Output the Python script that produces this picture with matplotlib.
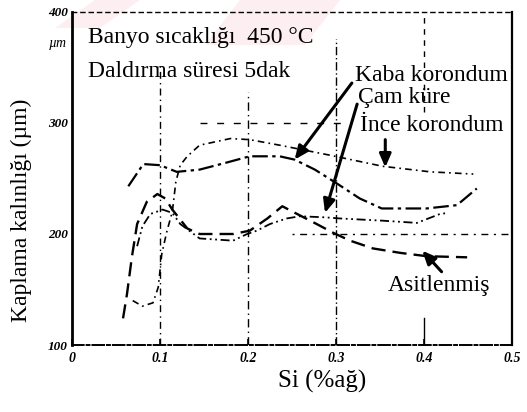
import matplotlib
matplotlib.use("Agg")
import matplotlib.pyplot as plt
from matplotlib.patches import Polygon

# --- data: coating thickness (µm) versus Si content (wt %) ---
kaba_si = [0.064, 0.081, 0.100, 0.119, 0.145, 0.174, 0.202, 0.236, 0.253, 0.276,
           0.302, 0.327, 0.352, 0.403, 0.4375, 0.460]
kaba_t = [243, 263, 262, 256, 258, 264, 270, 270, 267, 258,
          245, 232, 223, 223, 226, 241]

ince_si = [0.069, 0.080, 0.092, 0.098, 0.102, 0.108, 0.114, 0.118, 0.123, 0.131,
           0.145, 0.180, 0.202, 0.236, 0.293, 0.353, 0.407, 0.456]
ince_t = [140, 135, 138, 152, 182, 203, 220, 247, 262, 270,
          280, 286, 285, 280, 271, 261, 256, 254]

asit_si = [0.058, 0.0625, 0.068, 0.074, 0.085, 0.097, 0.106, 0.114, 0.131, 0.145,
           0.183, 0.202, 0.222, 0.239, 0.251, 0.278, 0.297, 0.316, 0.342, 0.373,
           0.403, 0.449]
asit_t = [124, 146, 179, 209, 229, 236, 232, 222, 205, 200,
          200, 203, 214, 225, 220, 209, 201, 194, 187, 183,
          180, 179]

cam_si = [0.074, 0.080, 0.089, 0.103, 0.114, 0.123, 0.145, 0.183, 0.199, 0.210,
          0.225, 0.244, 0.259, 0.2875, 0.3045, 0.353, 0.392, 0.418, 0.427]
cam_t = [189, 207, 218, 222, 219, 209, 196, 194, 200, 203,
         209, 214, 216, 215, 214, 212, 210, 218, 219]

x_ticks = [0, 0.1, 0.2, 0.3, 0.4, 0.5]
x_tick_labels = ["0", "0.1", "0.2", "0.3", "0.4", "0.5"]
y_ticks = [100, 200, 300, 400]
y_tick_labels = ["100", "200", "300", "400"]

SERIF = ["Liberation Serif", "DejaVu Serif"]

fig = plt.figure(figsize=(5.27, 4.12), dpi=100)
fig.patch.set_facecolor("white")

# faint pink diagonal bands across the top-left, behind everything
W, H = 527.0, 412.0
def fpx(pts):
    return [(x / W, 1 - y / H) for x, y in pts]
for band in ([(95, 0), (140, 0), (100, 28), (55, 28)],
             [(240, 0), (340, 0), (305, 45), (205, 45)]):
    fig.patches.append(Polygon(fpx(band), closed=True, transform=fig.transFigure,
                               facecolor="#fdeff1", edgecolor="none", zorder=-5))

ax = fig.add_axes([72 / W, 1 - 345 / H, (512 - 72) / W, (345 - 12) / H])
ax.set_zorder(1)
ax.patch.set_alpha(0)
ax.set_xlim(0, 0.5)
ax.set_ylim(100, 400)

# frame
ax.spines["left"].set_linewidth(2.0)
ax.spines["bottom"].set_linewidth(1.4)
ax.spines["bottom"].set_linestyle((0, (6, 1.5, 1.5, 1.5)))
ax.spines["top"].set_linewidth(1.0)
ax.spines["top"].set_linestyle((0, (3, 3)))
ax.spines["right"].set_linewidth(1.6)

ax.set_xticks(x_ticks)
ax.set_xticklabels(x_tick_labels, fontfamily=SERIF, fontstyle="italic",
                   fontweight="bold", fontsize=10)
ax.set_yticks(y_ticks)
ax.set_yticklabels(y_tick_labels, fontfamily=SERIF, fontstyle="italic",
                   fontweight="bold", fontsize=9.5)
ax.tick_params(axis="x", direction="in", length=4, width=1.2, pad=5)
ax.tick_params(axis="y", length=0, pad=3)

# guide lines
grid_kw = dict(color="black", linewidth=1.0, zorder=1)
ax.axvline(0.1, ymin=0.0, ymax=0.85, linestyle=(0, (5, 3, 1, 3)), **grid_kw)
ax.axvline(0.2, ymin=0.0, ymax=0.76, linestyle=(0, (6, 3, 1, 3)), **grid_kw)
ax.axvline(0.3, ymin=0.0, ymax=0.92, linestyle=(0, (6, 2, 1, 2)), **grid_kw)
ax.axvline(0.4, ymin=0.70, ymax=1.0, linestyle=(0, (4, 4)), **grid_kw)
ax.axvline(0.4, ymin=0.0, ymax=0.08, linestyle="-", **grid_kw)
ax.hlines(200, 0.25, 0.5, linestyle=(0, (1.5, 4, 5, 4)), **grid_kw)
ax.hlines(300, 0.145, 0.31, linestyle=(0, (5, 7)), **grid_kw)

# curves
ax.plot(kaba_si, kaba_t, color="black", linewidth=1.6,
        linestyle=(0, (7, 2, 1.5, 2)), zorder=3)
ax.plot(ince_si, ince_t, color="black", linewidth=1.2,
        linestyle=(0, (4, 2.5, 1, 2.5)), zorder=3)
ax.plot(asit_si, asit_t, color="black", linewidth=1.7,
        linestyle=(0, (6, 3)), zorder=3)
ax.plot(cam_si, cam_t, color="black", linewidth=1.3,
        linestyle=(0, (5, 2, 1, 2, 1, 2)), zorder=3)

# labels on the plot
txt_kw = dict(fontfamily=SERIF, fontsize=17, va="center", ha="left", zorder=5)
ax.text(0.018, 377, "Banyo sıcaklığı  450 °C", **txt_kw)
ax.text(0.018, 346, "Daldırma süresi 5dak", **txt_kw)
ax.text(0.3216, 343, "Kaba korondum", **txt_kw)
ax.text(0.325, 323, "Çam küre", **txt_kw)
ax.text(0.327, 298, "İnce korondum", **txt_kw)
ax.text(0.359, 154, "Asitlenmiş", **txt_kw)

arrow_kw = dict(arrowstyle="-|>,head_length=0.8,head_width=0.35",
                color="black", lw=2.2, shrinkA=0, shrinkB=0)
ax.annotate("", xy=(0.253, 267), xytext=(0.318, 336), arrowprops=arrow_kw)
ax.annotate("", xy=(0.2875, 219), xytext=(0.324, 317), arrowprops=arrow_kw)
ax.annotate("", xy=(0.356, 260), xytext=(0.356, 285), arrowprops=arrow_kw)
ax.annotate("", xy=(0.398, 185), xytext=(0.42, 166), arrowprops=arrow_kw)

# axis titles
fig.text(58 / W, 1 - 43 / H, "µm", fontfamily=SERIF, fontstyle="italic",
         fontsize=10, ha="center", va="center")
fig.text(21 / W, 1 - 210 / H, "Kaplama kalınlığı (µm)", fontfamily=SERIF,
         fontsize=17, rotation=90, ha="center", va="center")
fig.text(322 / W, 1 - 381 / H, "Si (%ağ)", fontfamily=SERIF,
         fontsize=18, ha="center", va="center")

fig.savefig("out.png", dpi=100, facecolor="white")
